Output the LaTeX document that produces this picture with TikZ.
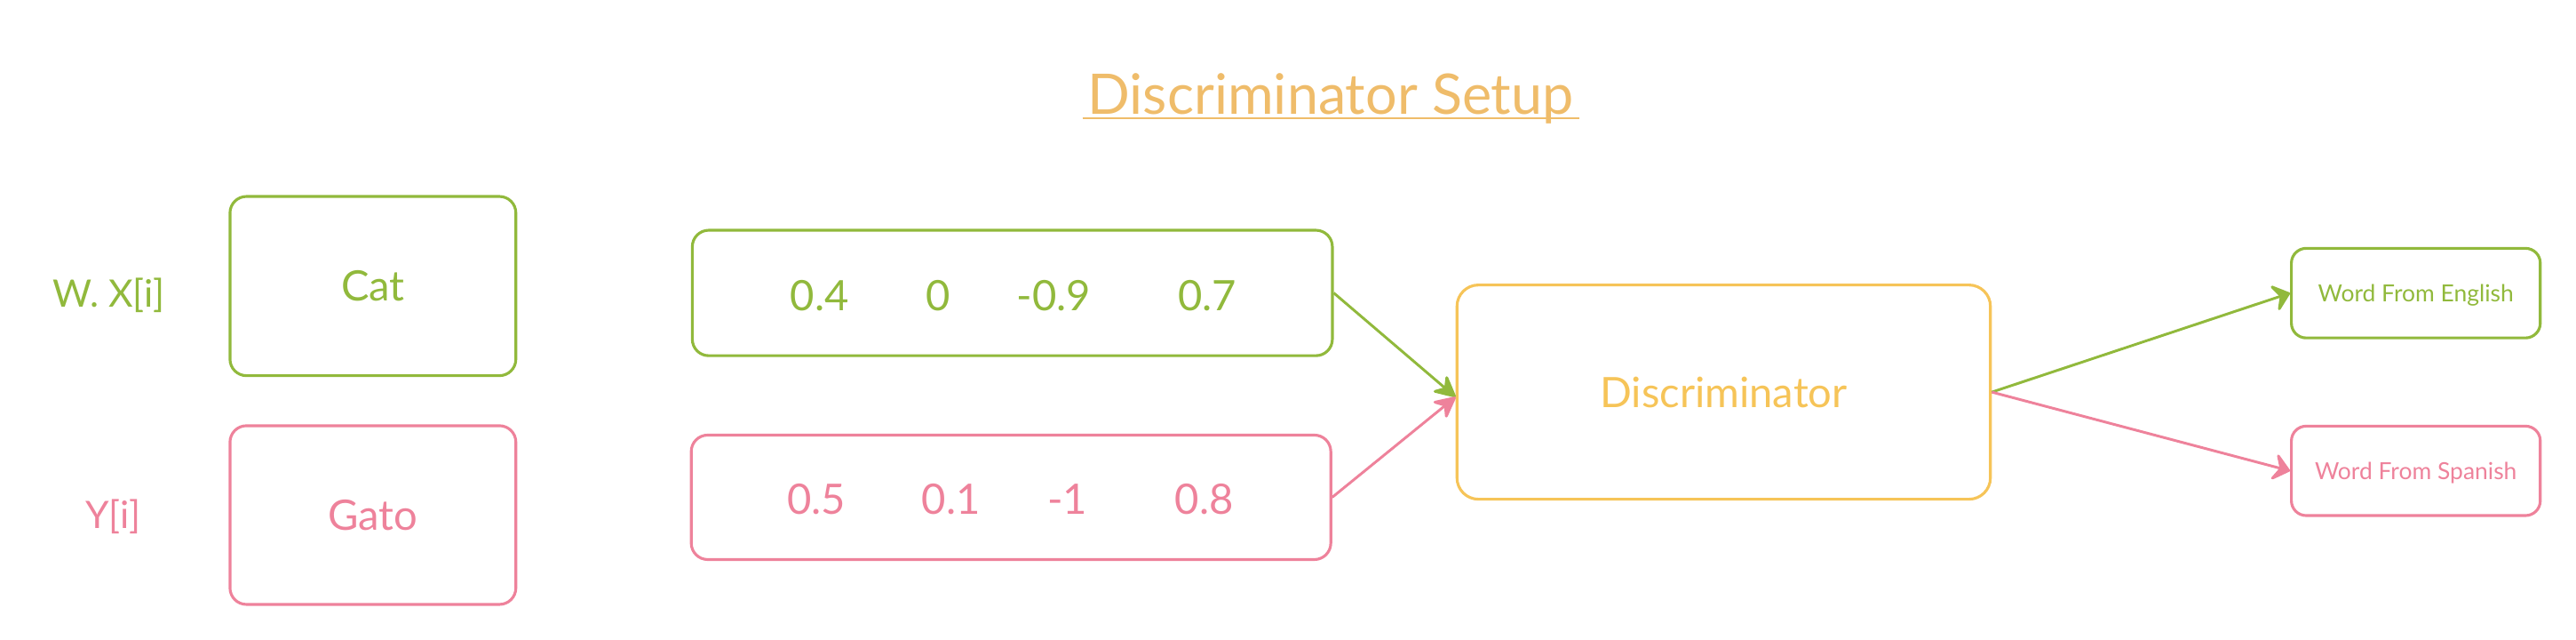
\documentclass[tikz,border=0pt]{standalone}
\usepackage{fontspec}
\setmainfont{Lato}
\usetikzlibrary{arrows.meta}
\definecolor{cgreen}{HTML}{91B93C}
\definecolor{cpink}{HTML}{EE829B}
\definecolor{cyel}{HTML}{F6C458}
\definecolor{ctitle}{HTML}{EFBC6A}
\newcommand{\fs}[1]{\fontsize{#1}{#1}\selectfont}
\begin{document}
\begin{tikzpicture}[x=1pt,y=-1pt,
  box/.style={draw, line width=1.7pt, rounded corners=10pt, inner sep=0pt,
    text height=18.3pt, text depth=0pt, font=\fs{25.5}},
  small/.style={text height=10.25pt, font=\fs{14.3}, rounded corners=9pt},
  gbox/.style={box, draw=cgreen, text=cgreen},
  pbox/.style={box, draw=cpink, text=cpink},
  lab/.style={anchor=base, inner sep=0pt},
  inarrow/.style={line width=1.6pt, -{Stealth[length=15pt, width=15pt, inset=5pt, round]}},
  outarrow/.style={line width=1.6pt, -{Stealth[length=12pt, width=20pt, inset=5pt, round]}}]
\useasboundingbox (0,0) rectangle (1568,389);

% title
\node[lab, text=ctitle, inner xsep=3pt, font=\fs{34}] (title) at (810,69.7) {Discriminator Setup};
\draw[ctitle, line width=1.1pt] ([yshift=-2pt]title.base west) -- ([yshift=-2pt]title.base east);

% side labels
\node[lab, text=cgreen, font=\fs{23}] (wx) at (66.3,186.9) {W. X[i]};
\node[lab, text=cpink, font=\fs{23}] (yi) at (69,321.7) {Y[i]};

% word boxes
\node[gbox, minimum width=174pt, minimum height=109pt] (cat) at (227,174) {Cat};
\node[pbox, minimum width=174pt, minimum height=108.7pt] (gato) at (227,313.3) {Gato};

% vector boxes
\node[gbox, minimum width=389.6pt, minimum height=76.3pt] (gvec) at (616.2,178.2) {};
\node[pbox, minimum width=389.3pt, minimum height=75.7pt] (pvec) at (615.4,302.5) {};

\node[lab, text=cgreen, font=\fs{25.5}] (g1) at (499,189.2) {0.4};
\node[lab, text=cgreen, font=\fs{25.5}] (g2) at (571,189.2) {0};
\node[lab, text=cgreen, font=\fs{25.5}] (g3) at (641.6,189.2) {-0.9};
\node[lab, text=cgreen, font=\fs{25.5}] (g4) at (735,189.2) {0.7};

\node[lab, text=cpink, font=\fs{25.5}] (p1) at (497,312.7) {0.5};
\node[lab, text=cpink, font=\fs{25.5}] (p2) at (579,312.7) {0.1};
\node[lab, text=cpink, font=\fs{25.5}] (p3) at (649.6,312.7) {-1};
\node[lab, text=cpink, font=\fs{25.5}] (p4) at (733,312.7) {0.8};

% discriminator
\node[box, draw=cyel, text=cyel, rounded corners=13pt, minimum width=324.7pt, minimum height=130.3pt] (disc) at (1049.2,238.5) {Discriminator};

% outputs
\node[gbox, small, minimum width=151.5pt, minimum height=54.5pt] (eng) at (1470.5,178.3) {Word From English};
\node[pbox, small, minimum width=151.5pt, minimum height=54.4pt] (spa) at (1470.5,286.4) {Word From Spanish};

% connectors
\coordinate (din) at ([yshift=-3pt]disc.west);
\draw[inarrow, cgreen] (gvec.east) -- (din);
\draw[inarrow, cpink] (pvec.east) -- (din);
\draw[outarrow, cgreen] (disc.east) -- (eng.west);
\draw[outarrow, cpink] (disc.east) -- (spa.west);
\end{tikzpicture}
\end{document}
